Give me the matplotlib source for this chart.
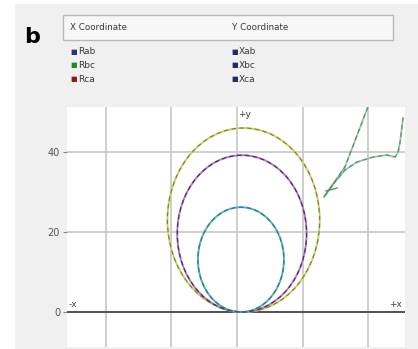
import matplotlib.pyplot as plt
from matplotlib.patches import Ellipse, Rectangle

# zone circles: centre (R, X) and radius
zones = ["outer", "middle", "inner"]
centre_r = [2.0, 1.5, 1.2]
centre_x = [23.0, 19.6, 13.1]
radius = [23.2, 19.7, 13.1]
line_col = ["#cfcf6a", "#b27abd", "#5ab2b8"]
dash_col = ["#77823f", "#47295e", "#2f7476"]

# impedance trajectory
traj_r = [39.9, 32.9, 26.5, 29.6, 32.9, 36.6, 41.5, 45.7, 48.2, 49.1, 49.7, 50.6]
traj_x = [51.25, 36.25, 28.75, 32.25, 35.5, 37.5, 38.75, 39.25, 38.75, 40.0, 42.5, 48.5]
stroke_r = [27.1, 30.5]
stroke_x = [30.25, 31.0]

yticks = [0, 20, 40]
xgrid = [-40, -20, 0, 20, 40]

legend_left = ["Rab", "Rbc", "Rca"]
legend_left_col = ["#2e2e7a", "#1f8c2a", "#8a1c1c"]
legend_right = ["Xab", "Xbc", "Xca"]
legend_right_col = ["#27276e", "#27276e", "#27276e"]

fig = plt.figure(figsize=(4.18, 3.49), dpi=100)
fig.patch.set_facecolor("white")
# grey panel
fig.add_artist(Rectangle((15/418, 0), 1, 1 - 4/349, transform=fig.transFigure,
                         facecolor="#f0f0f0", edgecolor="none", zorder=0))
# column header box
fig.add_artist(Rectangle((63/418, 1 - 40/349), 330/418, 25/349, transform=fig.transFigure,
                         facecolor="#f7f7f7", edgecolor="#b8b8b8", lw=1.0, zorder=1))
fig.text(0.058, 0.894, "b", fontsize=16, fontweight="bold", va="center", ha="left")
fig.text(70/418, 1 - 27/349, "X Coordinate", fontsize=6.3, color="#3a3a3a", va="center")
fig.text(232/418, 1 - 27/349, "Y Coordinate", fontsize=6.3, color="#3a3a3a", va="center")

rows = [52, 65, 79]
for i in range(3):
    yy = 1 - rows[i]/349
    fig.text(70/418, yy, "\u25a0", fontsize=5, color=legend_left_col[i], va="center")
    fig.text(78/418, yy, legend_left[i], fontsize=6.5, color="#3a3a3a", va="center")
    fig.text(231/418, yy, "\u25a0", fontsize=5, color=legend_right_col[i], va="center")
    fig.text(239/418, yy, legend_right[i], fontsize=6.5, color="#3a3a3a", va="center")

ax = fig.add_axes([67/418, 2/349, 338/418, 240/349])
ax.set_facecolor("white")
ax.set_xlim(-51.8, 51.2)
ax.set_ylim(-8.75, 51.25)

for g in xgrid:
    ax.axvline(g, color="#cacaca", lw=1.3, zorder=1)
for t in yticks[1:]:
    ax.axhline(t, color="#cacaca", lw=1.3, zorder=1)
ax.axhline(0, color="#505050", lw=1.4, zorder=2)

for i in range(len(zones)):
    ax.add_patch(Ellipse((centre_r[i], centre_x[i]), 2*radius[i], 2*centre_x[i],
                         fill=False, edgecolor=line_col[i], lw=1.4, zorder=3))
    ax.add_patch(Ellipse((centre_r[i], centre_x[i]), 2*radius[i], 2*centre_x[i],
                         fill=False, edgecolor=dash_col[i], lw=0.8, ls=(0, (4, 3)), zorder=4))

ax.plot(traj_r, traj_x, color="#9cc2a8", lw=1.3, zorder=3)
ax.plot(traj_r, traj_x, color="#5a8a6e", lw=0.8, ls=(0, (4, 3)), zorder=4)
ax.plot(stroke_r, stroke_x, color="#5a8a6e", lw=1.0, zorder=4)

ax.text(0.4, 49.3, "+y", fontsize=6.5, color="#444444", va="center")
ax.text(-51.3, 1.8, "-x", fontsize=6.5, color="#444444", va="center")
ax.text(46.5, 1.8, "+x", fontsize=6.5, color="#444444", va="center")

ax.set_xticks([])
ax.set_yticks(yticks)
ax.tick_params(axis="y", length=3, width=0.8, color="#888888", labelsize=7,
               labelcolor="#555555", pad=2)
for s in ax.spines.values():
    s.set_visible(False)

fig.savefig("out.png", dpi=100)
